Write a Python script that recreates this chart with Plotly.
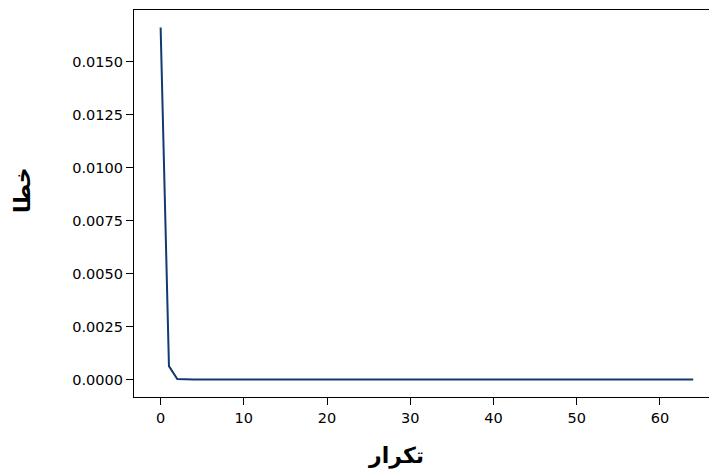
import plotly.graph_objects as go

iterations = list(range(0, 65))
error = [0.01662, 0.00063, 0.00002] + [0.0] * 62
x_ticks = [0, 10, 20, 30, 40, 50, 60]
y_ticks = [0.0, 0.0025, 0.005, 0.0075, 0.01, 0.0125, 0.015]
y_tick_labels = ["0.0000", "0.0025", "0.0050", "0.0075", "0.0100", "0.0125", "0.0150"]
x_title = "تکرار"
y_title = "خطا"

fig = go.Figure()
fig.add_trace(go.Scatter(x=iterations, y=error, mode="lines",
                         line=dict(color="#123a6e", width=2)))

W, H = 709, 469
L, R, T, B = 134, 0, 10, 72
fig.update_layout(
    width=W, height=H,
    margin=dict(l=L, r=R, t=T, b=B),
    paper_bgcolor="white", plot_bgcolor="white",
    showlegend=False,
    font=dict(family="DejaVu Sans", size=14, color="black"),
    xaxis=dict(range=[-3.2, 65.9], tickvals=x_ticks, showgrid=False, zeroline=False,
               showline=True, linecolor="black", linewidth=1.3, mirror=True,
               ticks="outside", ticklen=7, tickcolor="black", tickfont=dict(size=14.5)),
    yaxis=dict(range=[-0.00083, 0.01745], tickvals=y_ticks, ticktext=y_tick_labels,
               showgrid=False, zeroline=False,
               showline=True, linecolor="black", linewidth=1.3, mirror=False,
               ticks="outside", ticklen=7, tickcolor="black", tickfont=dict(size=14.5)),
    annotations=[
        dict(text="<b>" + x_title + "</b>", xref="paper", yref="paper",
             x=(396 - L) / (W - L - R), y=-(456 - (H - B)) / (H - T - B),
             showarrow=False, font=dict(size=22, family="DejaVu Sans"),
             xanchor="center", yanchor="middle"),
        dict(text="<b>" + y_title + "</b>", xref="paper", yref="paper",
             x=-(L - 22) / (W - L - R), y=((H - B) - 190) / (H - T - B),
             showarrow=False, textangle=-90, font=dict(size=22, family="DejaVu Sans"),
             xanchor="center", yanchor="middle"),
    ],
)
fig.write_html("out.html", config={"displayModeBar": False},
               post_script="document.body.style.margin='0';document.body.style.overflow='hidden';")
